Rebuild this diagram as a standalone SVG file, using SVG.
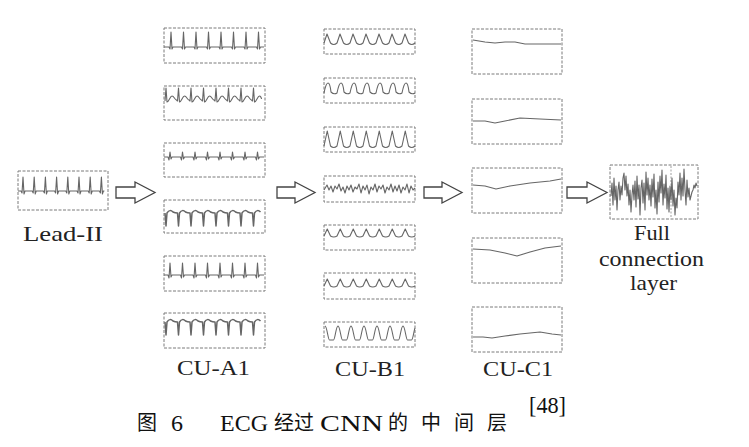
<svg xmlns="http://www.w3.org/2000/svg" width="749" height="447" viewBox="0 0 749 447">
<style>
.box{fill:#fff;stroke:#7a7a7a;stroke-width:1;stroke-dasharray:3 1.5}
.w{fill:none;stroke:#666;stroke-width:1.1;stroke-linejoin:round}
.wt{fill:none;stroke:#666;stroke-width:1.5;stroke-linejoin:round}
.arr{fill:#fff;stroke:#444;stroke-width:1.3;stroke-linejoin:miter}
.lbl{font-size:22px;fill:#222}
.cap{font-size:24px;fill:#111}
.cjk{font-size:20px;fill:#111}
</style>
<rect width="749" height="447" fill="#fff"/>

<g id="lead-ii">
<rect class="box" x="18" y="171" width="90" height="39"/>
<path class="w" d="M18,191 h3 l1,2 l1,-16 l1,17 l1,-3 h7.2 l1,2 l1,-16 l1,17 l1,-3 h7.2 l1,2 l1,-16 l1,17 l1,-3 h7.2 l1,2 l1,-16 l1,17 l1,-3 h7.2 l1,2 l1,-16 l1,17 l1,-3 h7.2 l1,2 l1,-16 l1,17 l1,-3 h7.2 l1,2 l1,-16 l1,17 l1,-3 h7.2 l1,2 l1,-16 l1,17 l1,-3 h1"/>
<text class="lbl" font-family="Liberation Serif, serif" x="23" y="241" textLength="80" lengthAdjust="spacingAndGlyphs">Lead-II</text>
</g>

<g id="cu-a1">
<rect class="box" x="164" y="28" width="101" height="35"/>
<path class="w" d="M164,47 h5 l1,2 l1,-17 l1,17 l1,-2 h3.5 h5 l1,2 l1,-17 l1,17 l1,-2 h3.5 h5 l1,2 l1,-17 l1,17 l1,-2 h3.5 h5 l1,2 l1,-17 l1,17 l1,-2 h3.5 h5 l1,2 l1,-17 l1,17 l1,-2 h3.5 h5 l1,2 l1,-17 l1,17 l1,-2 h3.5 h5 l1,2 l1,-17 l1,17 l1,-2 h3.5 h5 l1,2 l1,-17 l1,17 l1,-2 h3.5"/>
<rect class="box" x="164" y="86" width="101" height="34"/>
<path class="w" d="M165,101 l1,-13 l1,14 c2,0 3,-6 5,-6 c2,0 3,4 4.5,4 l1,1 l1,-13 l1,14 c2,0 3,-6 5,-6 c2,0 3,4 4.5,4 l1,1 l1,-13 l1,14 c2,0 3,-6 5,-6 c2,0 3,4 4.5,4 l1,1 l1,-13 l1,14 c2,0 3,-6 5,-6 c2,0 3,4 4.5,4 l1,1 l1,-13 l1,14 c2,0 3,-6 5,-6 c2,0 3,4 4.5,4 l1,1 l1,-13 l1,14 c2,0 3,-6 5,-6 c2,0 3,4 4.5,4 l1,1 l1,-13 l1,14 c2,0 3,-6 5,-6 c2,0 3,4 4.5,4 l1,1 l1,-13 l1,14 c2,0 3,-6 5,-6 c1,0 2,2 2,3"/>
<rect class="box" x="164" y="143" width="101" height="34"/>
<path class="w" d="M164,157 h4 l1,3 l1,-8 l1,7 l1,-2 h4.5 h4 l1,3 l1,-8 l1,7 l1,-2 h4.5 h4 l1,3 l1,-8 l1,7 l1,-2 h4.5 h4 l1,3 l1,-8 l1,7 l1,-2 h4.5 h4 l1,3 l1,-8 l1,7 l1,-2 h4.5 h4 l1,3 l1,-8 l1,7 l1,-2 h4.5 h4 l1,3 l1,-8 l1,7 l1,-2 h4.5 h4 l1,3 l1,-8 l1,7 l1,-2 h4.5"/>
<rect class="box" x="164" y="200" width="101" height="33"/>
<path class="wt" d="M165,213 l1,13 l1,-13 c2,-3 4,-3 6,-1 c2,1 3,1 4.5,1 l1,13 l1,-13 c2,-3 4,-3 6,-1 c2,1 3,1 4.5,1 l1,13 l1,-13 c2,-3 4,-3 6,-1 c2,1 3,1 4.5,1 l1,13 l1,-13 c2,-3 4,-3 6,-1 c2,1 3,1 4.5,1 l1,13 l1,-13 c2,-3 4,-3 6,-1 c2,1 3,1 4.5,1 l1,13 l1,-13 c2,-3 4,-3 6,-1 c2,1 3,1 4.5,1 l1,13 l1,-13 c2,-3 4,-3 6,-1 c2,1 3,1 4.5,1 l1,13 l1,-13 c2,-3 4,-3 6,-1"/>
<rect class="box" x="164" y="256" width="101" height="35"/>
<path class="w" d="M164,275 h4 l1,3 l1,-15 l1,14 l1,-2 h4.5 h4 l1,3 l1,-15 l1,14 l1,-2 h4.5 h4 l1,3 l1,-15 l1,14 l1,-2 h4.5 h4 l1,3 l1,-15 l1,14 l1,-2 h4.5 h4 l1,3 l1,-15 l1,14 l1,-2 h4.5 h4 l1,3 l1,-15 l1,14 l1,-2 h4.5 h4 l1,3 l1,-15 l1,14 l1,-2 h4.5 h4 l1,3 l1,-15 l1,14 l1,-2 h4.5"/>
<rect class="box" x="164" y="313" width="101" height="35"/>
<path class="wt" d="M165,322 l1,13 l1,-13 c2,-3 4,-3 6,-1 c2,1 3,1 4.5,1 l1,13 l1,-13 c2,-3 4,-3 6,-1 c2,1 3,1 4.5,1 l1,13 l1,-13 c2,-3 4,-3 6,-1 c2,1 3,1 4.5,1 l1,13 l1,-13 c2,-3 4,-3 6,-1 c2,1 3,1 4.5,1 l1,13 l1,-13 c2,-3 4,-3 6,-1 c2,1 3,1 4.5,1 l1,13 l1,-13 c2,-3 4,-3 6,-1 c2,1 3,1 4.5,1 l1,13 l1,-13 c2,-3 4,-3 6,-1 c2,1 3,1 4.5,1 l1,13 l1,-13 c2,-3 4,-3 6,-1"/>
<text class="lbl" font-family="Liberation Serif, serif" x="177" y="375" textLength="73" lengthAdjust="spacingAndGlyphs">CU-A1</text>
</g>

<g id="cu-b1">
<rect class="box" x="324" y="29" width="91" height="25"/>
<path class="w" d="M324,43 l3,-9 l3.5,9 q3.25,3 6.5,0 l3,-9 l3.5,9 q3.25,3 6.5,0 l3,-9 l3.5,9 q3.25,3 6.5,0 l3,-9 l3.5,9 q3.25,3 6.5,0 l3,-9 l3.5,9 q3.25,3 6.5,0 l3,-9 l3.5,9 q3.25,3 6.5,0 l3,-9 l3.5,9 q3.25,3 6.5,0"/>
<rect class="box" x="324" y="78" width="91" height="25"/>
<path class="w" d="M324,93 q2,-10 4,-10 q2,0 3,9 q3,3 6,1 q2,-10 4,-10 q2,0 3,9 q3,3 6,1 q2,-10 4,-10 q2,0 3,9 q3,3 6,1 q2,-10 4,-10 q2,0 3,9 q3,3 6,1 q2,-10 4,-10 q2,0 3,9 q3,3 6,1 q2,-10 4,-10 q2,0 3,9 q3,3 6,1 q2,-10 4,-10 q2,0 3,9 q3,3 6,1"/>
<rect class="box" x="324" y="127" width="91" height="25"/>
<path class="w" d="M324,146 l3.25,-15 l3.25,15 q3.25,3 6.5,0 l3.25,-15 l3.25,15 q3.25,3 6.5,0 l3.25,-15 l3.25,15 q3.25,3 6.5,0 l3.25,-15 l3.25,15 q3.25,3 6.5,0 l3.25,-15 l3.25,15 q3.25,3 6.5,0 l3.25,-15 l3.25,15 q3.25,3 6.5,0 l3.25,-15 l3.25,15 q3.25,3 6.5,0"/>
<rect class="box" x="324" y="176" width="91" height="26"/>
<path class="w" d="M324,190 L327,185 L329,190 L331,186 L333,192 L335,186 L337,189 L339,184 L341,191 L343,187 L345,193 L347,186 L349,190 L351,185 L353,192 L355,187 L357,189 L359,184 L361,193 L363,186 L365,190 L367,185 L369,194 L371,187 L373,190 L375,184 L377,192 L379,186 L381,189 L383,185 L385,193 L387,187 L389,190 L391,184 L393,192 L395,186 L397,191 L399,185 L401,193 L403,187 L405,190 L407,184 L409,193 L411,186 L413,190 L415,188"/>
<rect class="box" x="324" y="225" width="91" height="25"/>
<path class="w" d="M324,236 l3.25,-7 l3.25,7 q3.25,2 6.5,0 l3.25,-7 l3.25,7 q3.25,2 6.5,0 l3.25,-7 l3.25,7 q3.25,2 6.5,0 l3.25,-7 l3.25,7 q3.25,2 6.5,0 l3.25,-7 l3.25,7 q3.25,2 6.5,0 l3.25,-7 l3.25,7 q3.25,2 6.5,0 l3.25,-7 l3.25,7 q3.25,2 6.5,0"/>
<rect class="box" x="324" y="273" width="91" height="26"/>
<path class="w" d="M324,286 l3.25,-7 l3.25,7 q3.25,2 6.5,0 l3.25,-7 l3.25,7 q3.25,2 6.5,0 l3.25,-7 l3.25,7 q3.25,2 6.5,0 l3.25,-7 l3.25,7 q3.25,2 6.5,0 l3.25,-7 l3.25,7 q3.25,2 6.5,0 l3.25,-7 l3.25,7 q3.25,2 6.5,0 l3.25,-7 l3.25,7 q3.25,2 6.5,0"/>
<rect class="box" x="324" y="322" width="91" height="25"/>
<path class="w" d="M325,326 c2,0 3,14 4.5,14 c1.5,0 2.5,0 4,0 c1.5,0 2.5,-14 4.5,-14 c2,0 3,14 4.5,14 c1.5,0 2.5,0 4,0 c1.5,0 2.5,-14 4.5,-14 c2,0 3,14 4.5,14 c1.5,0 2.5,0 4,0 c1.5,0 2.5,-14 4.5,-14 c2,0 3,14 4.5,14 c1.5,0 2.5,0 4,0 c1.5,0 2.5,-14 4.5,-14 c2,0 3,14 4.5,14 c1.5,0 2.5,0 4,0 c1.5,0 2.5,-14 4.5,-14 c2,0 3,14 4.5,14 c1.5,0 2.5,0 4,0 c1.5,0 2.5,-14 4.5,-14 c2,0 3,14 4.5,14 c1.5,0 2.5,0 4,0 c1.5,0 2.5,-10 3.5,-12"/>
<text class="lbl" font-family="Liberation Serif, serif" x="335" y="376" textLength="70" lengthAdjust="spacingAndGlyphs">CU-B1</text>
</g>

<g id="cu-c1">
<rect class="box" x="472" y="29" width="90" height="45"/>
<path class="w" d="M473,40 L485,42 L495,43 L505,42 L515,42 L525,44 L535,44 L561,44"/>
<rect class="box" x="472" y="99" width="90" height="45"/>
<path class="w" d="M473,121 L485,121 L495,123 L505,121 L520,118 L540,119 L561,120"/>
<rect class="box" x="472" y="168" width="90" height="45"/>
<path class="w" d="M473,185 L485,186 L496,189 L510,186 L530,183 L550,181 L561,179"/>
<rect class="box" x="472" y="238" width="90" height="45"/>
<path class="w" d="M473,249 L490,250 L505,253 L517,256 L530,252 L545,248 L561,246"/>
<rect class="box" x="472" y="307" width="90" height="45"/>
<path class="w" d="M473,337 L483,337 L492,338 L505,336 L520,334 L540,332 L552,334 L561,335"/>
<text class="lbl" font-family="Liberation Serif, serif" x="483" y="376" textLength="70" lengthAdjust="spacingAndGlyphs">CU-C1</text>
</g>

<g id="full-connection">
<rect class="box" x="610" y="165" width="88" height="54"/>
<line x1="671" y1="166" x2="671" y2="218" stroke="#888" stroke-width="0.8" stroke-dasharray="2 1.5"/>
<path class="w" stroke-width="0.9" d="M611,196 L612,183 L613,205 L614,178 L615,200 L616,186 L617,210 L618,190 L619,182 L620,200 L621,186 L622,195 L623,178 L624,173 L625,190 L626,176 L627,196 L628,184 L629,205 L630,190 L631,212 L632,195 L633,185 L634,200 L635,181 L636,207 L637,176 L638,199 L639,185 L640,215 L641,188 L642,180 L643,203 L644,183 L645,210 L646,172 L647,195 L648,178 L649,200 L650,185 L651,206 L652,179 L653,197 L654,174 L655,208 L656,190 L657,214 L658,182 L659,202 L660,176 L661,193 L662,170 L663,205 L664,184 L665,198 L666,175 L667,209 L668,188 L669,212 L670,186 L671,200 L672,178 L673,206 L674,190 L675,215 L676,198 L677,208 L678,182 L679,195 L680,173 L681,200 L682,178 L683,196 L684,169 L685,190 L686,205 L687,180 L688,197 L689,188 L690,200 L691,196 L692,192 L693,190 L694,185 L695,188 L696,183 L697,186"/>
<text class="lbl" font-family="Liberation Serif, serif" x="634" y="240" textLength="36" lengthAdjust="spacingAndGlyphs">Full</text>
<text class="lbl" font-family="Liberation Serif, serif" x="599" y="266" textLength="105" lengthAdjust="spacingAndGlyphs">connection</text>
<text class="lbl" font-family="Liberation Serif, serif" x="630" y="290" textLength="47" lengthAdjust="spacingAndGlyphs">layer</text>
</g>

<g id="connectors">
<polygon class="arr" points="116,187 135,187 135,182 155,192.5 135,203 135,198 116,198"/>
<polygon class="arr" points="277,187 295,187 295,182 315,192.5 295,203 295,198 277,198"/>
<polygon class="arr" points="424,187 442,187 442,182 462,192.5 442,203 442,198 424,198"/>
<polygon class="arr" points="567,187 587,187 587,182 607,192.5 587,203 587,198 567,198"/>
</g>

<g id="caption">
<text class="cjk" font-family="Noto Sans CJK SC, sans-serif" x="137" y="430">图</text>
<text class="cap" font-family="Liberation Serif, serif" x="171" y="431">6</text>
<text class="cap" font-family="Liberation Serif, serif" x="220" y="431" textLength="48" lengthAdjust="spacingAndGlyphs">ECG</text>
<text class="cjk" font-family="Noto Sans CJK SC, sans-serif" x="274" y="430">经过</text>
<text class="cap" font-family="Liberation Serif, serif" x="320" y="431" textLength="63" lengthAdjust="spacingAndGlyphs">CNN</text>
<text class="cjk" font-family="Noto Sans CJK SC, sans-serif" x="388" y="430" letter-spacing="13">的中间层</text>
<text class="cap" font-family="Liberation Serif, serif" x="529" y="413" font-size="13" textLength="37" lengthAdjust="spacingAndGlyphs">[48]</text>
</g>
</svg>
